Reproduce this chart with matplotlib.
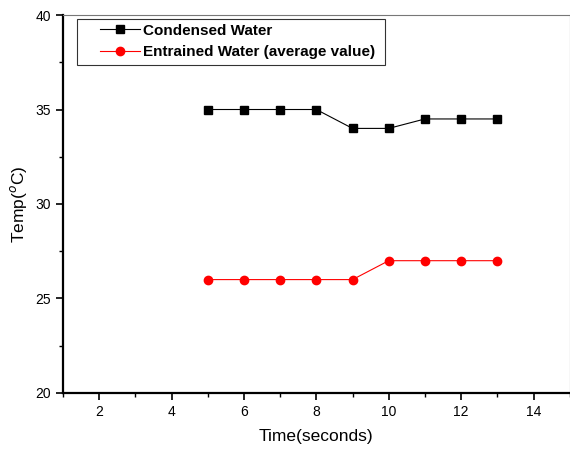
import matplotlib
matplotlib.use("Agg")
import matplotlib.pyplot as plt
from matplotlib.lines import Line2D
from matplotlib.legend_handler import HandlerLine2D
from matplotlib.ticker import MultipleLocator

plt.rcParams["font.family"] = ["Liberation Sans", "DejaVu Sans"]

time_s = [5, 6, 7, 8, 9, 10, 11, 12, 13]
condensed = [35, 35, 35, 35, 34, 34, 34.5, 34.5, 34.5]
entrained = [26, 26, 26, 26, 26, 27, 27, 27, 27]

fig = plt.figure(figsize=(5.7, 4.55), dpi=100)
ax = fig.add_axes([0.1105, 0.1363, 0.889, 0.8307])

ax.plot(time_s, condensed, color="black", lw=0.8, marker="s", ms=5.5,
        label="Condensed Water")
ax.plot(time_s, entrained, color="red", lw=0.8, marker="o", ms=6,
        label="Entrained Water (average value) ")

ax.set_xlim(1, 15)
ax.set_ylim(20, 40)
ax.xaxis.set_major_locator(MultipleLocator(2))
ax.xaxis.set_minor_locator(MultipleLocator(1))
ax.yaxis.set_major_locator(MultipleLocator(5))
ax.yaxis.set_minor_locator(MultipleLocator(2.5))
ax.tick_params(which="major", direction="out", length=5, width=1.2, labelsize=10)
ax.tick_params(which="minor", direction="out", length=3, width=1.0)
for side in ("left", "bottom"):
    ax.spines[side].set_linewidth(1.6)
for side in ("top", "right"):
    ax.spines[side].set_linewidth(0.8)
    ax.spines[side].set_color("#777777")

ax.set_xlabel("Time(seconds)", fontsize=12.5, labelpad=7)
ax.set_ylabel("Temp($^o$C)", fontsize=12.5, labelpad=5)

# indent the legend handles a bit from the frame edge
leg = ax.legend(loc="upper left", bbox_to_anchor=(0.027, 0.99), frameon=True,
                fancybox=False, edgecolor="black", prop={"weight": "bold", "size": 11},
                handlelength=3.82, borderpad=0.33, labelspacing=0.5, handletextpad=0.2,
                borderaxespad=0.0,
                handler_map={Line2D: HandlerLine2D(xpad=1.2)})
leg.get_frame().set_linewidth(0.8)

fig.savefig("out.png", dpi=100)
